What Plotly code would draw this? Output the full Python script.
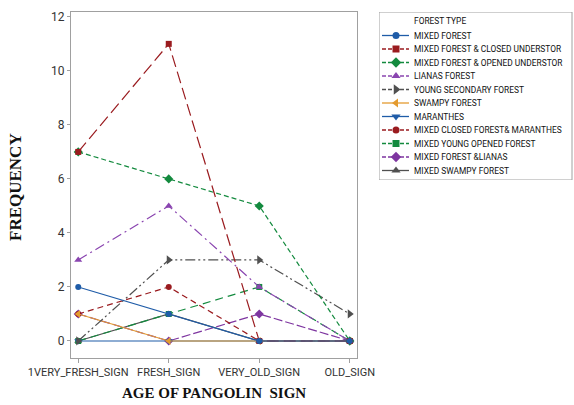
import plotly.graph_objects as go

categories = ["1VERY_FRESH_SIGN", "FRESH_SIGN", "VERY_OLD_SIGN", "OLD_SIGN"]

mixed_forest = [2, 1, 0, 0]
mixed_forest_closed_understor = [7, 11, 0, 0]
mixed_forest_opened_understor = [7, 6, 5, 0]
lianas_forest = [3, 5, 2, 0]
young_secondary_forest = [0, 3, 3, 1]
swampy_forest = [1, 0, 0, 0]
maranthes = [0, 0, 0, 0]
mixed_closed_forest_maranthes = [1, 2, 0, 0]
mixed_young_opened_forest = [0, 1, 2, 0]
mixed_forest_lianas = [1, 0, 1, 0]
mixed_swampy_forest = [0, 1, 0, 0]

series_names = [
    "MIXED FOREST",
    "MIXED FOREST & CLOSED UNDERSTOR",
    "MIXED FOREST & OPENED UNDERSTOR",
    "LIANAS FOREST",
    "YOUNG SECONDARY FOREST",
    "SWAMPY FOREST",
    "MARANTHES",
    "MIXED CLOSED FOREST& MARANTHES",
    "MIXED YOUNG OPENED FOREST",
    "MIXED FOREST &LIANAS",
    "MIXED SWAMPY FOREST",
]
series_values = [
    mixed_forest, mixed_forest_closed_understor, mixed_forest_opened_understor,
    lianas_forest, young_secondary_forest, swampy_forest, maranthes,
    mixed_closed_forest_maranthes, mixed_young_opened_forest,
    mixed_forest_lianas, mixed_swampy_forest,
]
y_ticks = [0, 2, 4, 6, 8, 10, 12]

BLUE = "#1f5ca8"
RED = "#9a1b1f"
GREEN = "#138a3e"
PURPLE = "#7e35a0"
GREY = "#505050"
ORANGE = "#e49b30"

styles = [
    (BLUE, "solid", "circle", 6),
    (RED, "12px,5px", "square", 6),
    (GREEN, "5px,3px", "diamond", 7),
    ("#8a45b0", "10px,4px,2px,4px", "triangle-up", 7),
    (GREY, "10px,3px,2px,3px,2px,3px", "triangle-right", 8),
    (ORANGE, "solid", "triangle-left", 7),
    (BLUE, "solid", "triangle-down", 7),
    (RED, "6px,4px", "circle", 6),
    (GREEN, "8px,5px", "square", 6),
    (PURPLE, "9px,3px", "diamond", 7),
    (GREY, "solid", "triangle-up", 7),
]

SANS = "Roboto, Arial, sans-serif"
SERIF = "Liberation Serif, Times New Roman, serif"

fig = go.Figure()

order = list(range(len(series_names)))[::-1]
for i in order:
    color, dash, sym, size = styles[i]
    fig.add_trace(go.Scatter(
        x=categories, y=series_values[i], mode="lines+markers",
        name=series_names[i], showlegend=False,
        line=dict(color=color, width=1.2, dash=dash),
        marker=dict(symbol=sym, size=size, color=color),
        xaxis="x", yaxis="y",
    ))

# compact legend drawn on a hidden second subplot (pixel-like coordinates)
leg_first = 35.5
leg_step = 13.5
for i, name in enumerate(series_names):
    color, dash, sym, size = styles[i]
    yy = leg_first + i * leg_step
    fig.add_trace(go.Scatter(
        x=[382, 409], y=[yy, yy], mode="lines",
        line=dict(color=color, width=1.3, dash=dash if dash == "solid" else "4px,2px"),
        showlegend=False, hoverinfo="skip", xaxis="x2", yaxis="y2",
    ))
    fig.add_trace(go.Scatter(
        x=[396], y=[yy], mode="markers",
        marker=dict(symbol=sym, size=size + 1, color=color),
        showlegend=False, hoverinfo="skip", xaxis="x2", yaxis="y2",
    ))
    fig.add_annotation(
        x=412, y=yy, xref="x2", yref="y2", text=name, showarrow=False,
        xanchor="left", yanchor="middle",
        font=dict(family=SANS, size=8.4, color="#111111"),
    )

fig.add_annotation(
    x=412, y=21, xref="x2", yref="y2", text="FOREST TYPE", showarrow=False,
    xanchor="left", yanchor="middle",
    font=dict(family=SANS, size=8.4, color="#111111"),
)

fig.add_shape(type="rect", xref="x2", yref="y2", x0=379, x1=572, y0=12, y1=180,
              line=dict(color="#a0a0a0", width=1), fillcolor="rgba(0,0,0,0)")

L, T, B = 71, 12, 47
W, H = 574, 405
pw = W - L
ph = H - T - B

fig.update_layout(
    width=W, height=H,
    margin=dict(l=L, r=0, t=T, b=B, autoexpand=False),
    paper_bgcolor="white", plot_bgcolor="white",
    showlegend=False,
    xaxis=dict(
        domain=[0, (357 - L) / pw], range=[-0.08, 3.08], type="category",
        showline=True, mirror=True, linecolor="#a0a0a0", linewidth=1,
        showgrid=False, zeroline=False, tickangle=0,
        ticks="outside", ticklen=4, tickcolor="#a0a0a0",
        tickfont=dict(family=SANS, size=11, color="#333333"),
    ),
    yaxis=dict(
        domain=[0, 1], range=[-0.63, 12.18],
        tickvals=y_ticks, ticktext=[str(v) for v in y_ticks],
        showline=True, mirror=True, linecolor="#a0a0a0", linewidth=1,
        showgrid=False, zeroline=False,
        ticks="outside", ticklen=3, tickcolor="#a0a0a0",
        tickfont=dict(family=SANS, size=12, color="#333333"),
    ),
    xaxis2=dict(domain=[(379 - L) / pw, (574 - L) / pw], range=[379, 574],
                visible=False, anchor="y2", fixedrange=True),
    yaxis2=dict(domain=[(H - B - 180) / ph, (H - B - 12) / ph], range=[180, 12],
                visible=False, anchor="x2", fixedrange=True),
)

fig.add_annotation(
    text="<b>FREQUENCY</b>", xref="paper", yref="paper",
    x=(15 - L) / pw, y=(H - B - 187) / ph, textangle=-90, showarrow=False,
    xanchor="center", yanchor="middle",
    font=dict(family=SERIF, size=17, color="#111111"),
)
fig.add_annotation(
    text="<b>AGE OF PANGOLIN&nbsp; SIGN</b>", xref="paper", yref="paper",
    x=(214 - L) / pw, y=(H - B - 393) / ph, showarrow=False,
    xanchor="center", yanchor="middle",
    font=dict(family=SERIF, size=15, color="#111111"),
)

fig.write_html(
    "out.html",
    config={"displayModeBar": False},
    post_script="document.body.style.margin='0';document.body.style.overflow='hidden';",
)
